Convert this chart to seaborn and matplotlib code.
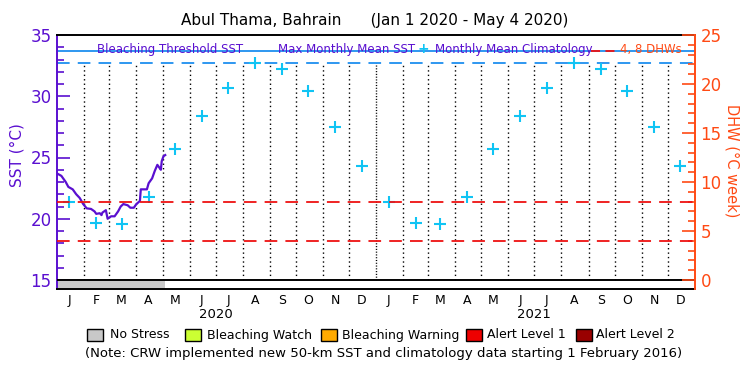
import numpy as np
import pandas as pd
import matplotlib
matplotlib.use("Agg")
import matplotlib.pyplot as plt
from matplotlib.patches import Rectangle
import seaborn as sns

# ---------------- data ----------------
title = "Abul Thama, Bahrain      (Jan 1 2020 - May 4 2020)"
sst_dates = ["2020-01-01", "2020-01-06", "2020-01-11", "2020-01-14", "2020-01-19",
             "2020-01-23", "2020-01-27", "2020-01-31", "2020-02-04", "2020-02-09",
             "2020-02-13", "2020-02-15", "2020-02-19", "2020-02-21", "2020-02-22",
             "2020-02-26", "2020-02-28", "2020-03-03", "2020-03-07", "2020-03-11",
             "2020-03-14", "2020-03-17", "2020-03-22", "2020-03-25", "2020-03-29",
             "2020-04-01", "2020-04-05", "2020-04-06", "2020-04-13", "2020-04-15",
             "2020-04-19", "2020-04-22", "2020-04-25", "2020-04-28", "2020-04-29",
             "2020-04-30", "2020-05-02", "2020-05-04"]
sst_values = [23.7, 23.5, 23.0, 22.6, 22.4, 22.0, 21.7, 21.2, 20.85, 20.8,
              20.6, 20.4, 20.45, 20.3, 20.5, 20.7, 20.0, 20.2, 20.2, 20.6,
              21.0, 21.2, 21.1, 20.9, 20.9, 21.2, 21.45, 22.4, 22.4, 22.9,
              23.3, 23.9, 24.4, 24.1, 24.0, 24.7, 25.1, 25.2]
clim_months = ["J", "F", "M", "A", "M", "J", "J", "A", "S", "O", "N", "D"]
clim_values = [21.4, 19.65, 19.55, 21.8, 25.7, 28.35, 30.7, 32.7, 32.25, 30.4, 27.5, 24.3]
years = [2020, 2021]
mmm = 32.7
bleaching_threshold = 33.7
dhw_levels = [4, 8]
stress_start = "2020-01-01"
stress_end = "2020-05-04"
stress_names = ["No Stress", "Bleaching Watch", "Bleaching Warning", "Alert Level 1", "Alert Level 2"]
stress_colors = ["#c8c8c8", "#ccff33", "#ffaa00", "#ee0000", "#990000"]
note = "(Note: CRW implemented new 50-km SST and climatology data starting 1 February 2016)"

VIOLET = "#5a0fd0"
ORANGE = "#ff4a14"
BLUE = "#1e8fef"
CYAN = "#10c4f4"
RED = "#ee1111"

# ---------------- figure ----------------
fig = plt.figure(figsize=(7.5, 3.75), dpi=100)
W, H = 750, 375
ax = fig.add_axes([57 / W, 1 - 289 / H, (695 - 57) / W, (289 - 35) / H])
ax2 = ax.twinx()

x0 = pd.Timestamp("2020-01-01")
x1 = pd.Timestamp("2022-01-01")
ax.set_xlim(x0, x1)
sst_lo = 15 - 9 / 12.25
ax.set_ylim(sst_lo, 35)
ax2.set_ylim(-9 / 9.8, 25)

# month boundary dotted lines
for y in years:
    for m in range(1, 13):
        d = pd.Timestamp(year=y, month=m, day=1)
        if d == x0:
            continue
        dense = (m == 1)
        ax.plot([d, d], [15, mmm], color="black", lw=1.0,
                linestyle=(0, (0.8, 1.2)) if dense else (0, (1, 2.2)), zorder=1)

# horizontal reference lines
ax.axhline(bleaching_threshold, color=BLUE, lw=1.3, zorder=2)
ax.axhline(mmm, color=BLUE, lw=1.3, linestyle=(0, (7, 4.5)), zorder=2)
for lv in dhw_levels:
    ax2.axhline(lv, color=RED, lw=1.3, linestyle=(0, (7, 4.5)), zorder=2)
ax.axhline(15, color="black", lw=1.4, zorder=3)

# stress strip
ax.fill_between([pd.Timestamp(stress_start), pd.Timestamp(stress_end)], sst_lo, 15,
                color=stress_colors[0], lw=0, zorder=2)

# climatology crosses
clim_df = pd.DataFrame({
    "date": [pd.Timestamp(year=y, month=m + 1, day=15) for y in years for m in range(12)],
    "sst": clim_values * len(years),
})
sns.scatterplot(data=clim_df, x="date", y="sst", marker="+", s=75, color=CYAN,
                linewidth=1.5, ax=ax, zorder=4, legend=False)

# SST line
sst_df = pd.DataFrame({"date": pd.to_datetime(sst_dates), "sst": sst_values})
sns.lineplot(data=sst_df, x="date", y="sst", color=VIOLET, lw=1.6, ax=ax, zorder=5)

ax.set_xlim(x0, x1)
ax.set_ylim(sst_lo, 35)
ax.set_xlabel("")
ax.set_ylabel("")
ax2.set_ylabel("")

# x ticks: month letters at mid-month
mids = [pd.Timestamp(year=y, month=m + 1, day=15) for y in years for m in range(12)]
ax.set_xticks(mids)
ax.set_xticklabels(clim_months * len(years), fontsize=9)
ax.tick_params(axis="x", length=0, pad=3.5)
for i, y in enumerate(years):
    ax.text(pd.Timestamp(year=y, month=7, day=1), -0.1, str(y), transform=ax.get_xaxis_transform(),
            ha="center", va="center", fontsize=9.5)

# left y ticks
ax.set_yticks([15, 20, 25, 30, 35])
ax.set_yticks(np.arange(15, 36, 1), minor=True)
ax.tick_params(axis="y", which="major", direction="in", length=9.5, width=1.2,
               color=VIOLET, labelcolor=VIOLET, labelsize=12, pad=4)
ax.tick_params(axis="y", which="minor", direction="in", length=5, width=1.2, color=VIOLET)
# right y ticks
ax2.set_yticks([0, 5, 10, 15, 20, 25])
ax2.set_yticks(np.arange(0, 26, 1), minor=True)
ax2.tick_params(axis="y", which="major", direction="in", length=9.5, width=1.2,
                color=ORANGE, labelcolor=ORANGE, labelsize=12, pad=4)
ax2.tick_params(axis="y", which="minor", direction="in", length=5, width=1.2, color=ORANGE)

for a in (ax, ax2):
    for s in a.spines.values():
        s.set_linewidth(1.4)
ax.spines["left"].set_color(VIOLET)
ax.spines["top"].set_color("black")
ax.spines["bottom"].set_color("black")
ax2.spines["right"].set_color(ORANGE)
ax2.spines["left"].set_visible(False)
ax2.spines["top"].set_visible(False)
ax2.spines["bottom"].set_visible(False)
ax.spines["right"].set_visible(False)

# axis labels
fig.text(17.5 / W, 1 - 155 / H, "SST (°C)", rotation=90, ha="center", va="center",
         color=VIOLET, fontsize=11)
fig.text(732 / W, 1 - 161 / H, "DHW (°C week)", rotation=270, ha="center", va="center",
         color=ORANGE, fontsize=10.5)

# title
fig.text(375 / W, 1 - 20 / H, title, ha="center", va="center", fontsize=11)

# in-plot legend
ly = 1 - 49 / H
fig.text(97 / W, ly, "Bleaching Threshold SST", color=VIOLET, fontsize=8.5, va="center")
fig.text(278 / W, ly, "Max Monthly Mean SST", color=VIOLET, fontsize=8.5, va="center")
fig.text(423 / W, ly, "+", color=CYAN, fontsize=10, va="center", ha="center", fontweight="bold")
fig.text(435 / W, ly, "Monthly Mean Climatology", color=VIOLET, fontsize=8.5, va="center")
fig.lines.append(plt.Line2D([591 / W, 615 / W], [1 - 51 / H, 1 - 51 / H], transform=fig.transFigure,
                            color=RED, lw=1.3, linestyle=(0, (5, 3))))
fig.text(620 / W, ly, "4, 8 DHWs", color=ORANGE, fontsize=8.5, va="center")

# bottom stress legend
box_x = [87, 185, 321, 466, 576]
text_x = [110, 207, 342, 487, 596]
for bx, tx, name, c in zip(box_x, text_x, stress_names, stress_colors):
    fig.patches.append(Rectangle((bx / W, 1 - 341 / H), 16 / W, 12 / H, transform=fig.transFigure,
                                 facecolor=c, edgecolor="black", lw=1.0))
    fig.text(tx / W, 1 - 335 / H, name, fontsize=9, va="center")

fig.text(384 / W, 1 - 354 / H, note, ha="center", va="center", fontsize=9.5)

fig.savefig("out.png", dpi=100)
